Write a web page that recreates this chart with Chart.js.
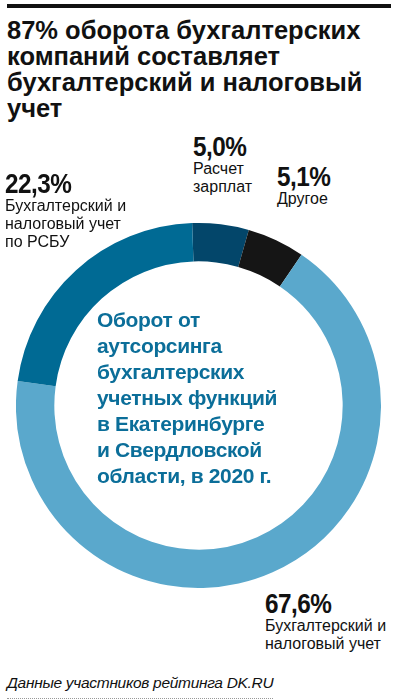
<!DOCTYPE html>
<html><head><meta charset="utf-8">
<script src="https://cdn.jsdelivr.net/npm/chart.js@4/dist/chart.umd.min.js"></script>
<style>
html,body{margin:0;padding:0;background:#fff;width:398px;height:699px;overflow:hidden;position:relative;font-family:"Liberation Sans",Arial,sans-serif;}
.rule{position:absolute;left:7px;top:4px;width:384px;height:4px;background:#111;}
.title{position:absolute;left:7px;top:17px;font-weight:bold;font-size:25.5px;line-height:26px;color:#111;letter-spacing:0px;}
.pct{font-family:"Liberation Sans",Arial,sans-serif;font-weight:bold;font-size:27px;line-height:26px;color:#111;transform:scaleX(0.9);transform-origin:0 0;white-space:nowrap;letter-spacing:-0.6px;}
.lbl{position:absolute;font-size:16px;line-height:18px;color:#111;}
.center{position:absolute;left:97px;top:307px;font-weight:bold;font-size:21px;line-height:26px;color:#0b6e99;letter-spacing:-0.35px;}
.foot{position:absolute;left:7px;top:674px;font-style:italic;font-size:15.5px;color:#111;border-bottom:1px dotted #999;padding-bottom:6px;letter-spacing:-0.3px;}
#wrap{position:absolute;left:16px;top:223px;width:365px;height:365px;}
</style></head><body>
<div class="rule"></div>
<div class="title">87% оборота бухгалтерских<br>компаний составляет<br>бухгалтерский и налоговый<br>учет</div>
<div id="wrap"><canvas id="c"></canvas></div>
<div class="center">Оборот от<br>аутсорсинга<br>бухгалтерских<br>учетных функций<br>в Екатеринбурге<br>и Свердловской<br>области, в 2020 г.</div>
<div class="lbl" style="left:5px;top:171px;"><div class="pct">22,3%</div>Бухгалтерский и<br>налоговый учет<br>по РСБУ</div>
<div class="lbl" style="left:193px;top:134px;"><div class="pct">5,0%</div>Расчет<br>зарплат</div>
<div class="lbl" style="left:277px;top:164px;"><div class="pct">5,1%</div>Другое</div>
<div class="lbl" style="left:265px;top:591px;"><div class="pct">67,6%</div>Бухгалтерский и<br>налоговый учет</div>
<div class="foot">Данные участников рейтинга DK.RU</div>
<script>
const categories = ["Расчет зарплат", "Другое", "Бухгалтерский и налоговый учет", "Бухгалтерский и налоговый учет по РСБУ"];
const shares = [5.0, 5.1, 67.6, 22.3];
const sliceColors = ["#03466a", "#151515", "#5aa8cc", "#006a94"];
new Chart(document.getElementById('c'), {
  type: 'doughnut',
  data: { labels: categories, datasets: [{ data: shares, backgroundColor: sliceColors, borderWidth: 0 }] },
  options: {
    responsive: true, maintainAspectRatio: false, animation: false,
    cutout: '79%', rotation: -2,
    layout: { padding: 0 },
    plugins: { legend: { display: false }, tooltip: { enabled: false } }
  }
});
</script>
</body></html>
